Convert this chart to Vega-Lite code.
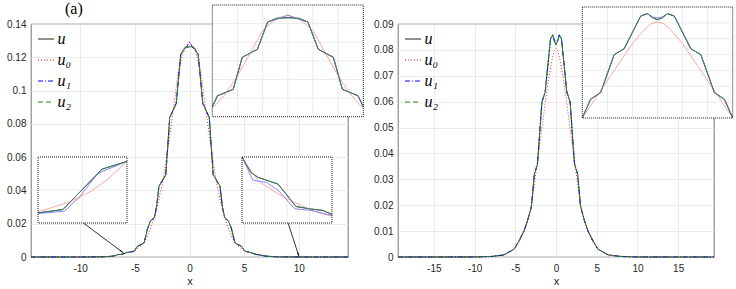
{
  "$schema": "https://vega.github.io/schema/vega-lite/v6.json",
  "padding": {"left": 6, "top": 0, "right": 0, "bottom": 0},
  "bounds": "flush",
  "spacing": 50,
  "resolve": {"scale": {"x": "independent", "y": "independent", "color": "independent", "strokeDash": "independent"}},
  "datasets": {
    "L": [
      {"s":"u","x":-14.5,"y":0},{"s":"u","x":-10,"y":0.00001},{"s":"u","x":-8,"y":0.0001},{"s":"u","x":-7,"y":0.0005},{"s":"u","x":-6.5,"y":0.001475},{"s":"u","x":-6.22,"y":0.001567},{"s":"u","x":-5.78,"y":0.002669},{"s":"u","x":-5.5,"y":0.002881},{"s":"u","x":-5.08,"y":0.0034},{"s":"u","x":-4.75,"y":0.0065},{"s":"u","x":-4.45,"y":0.0074},{"s":"u","x":-4.15,"y":0.0085},{"s":"u","x":-3.85,"y":0.0168},{"s":"u","x":-3.6,"y":0.0212},{"s":"u","x":-3.2,"y":0.0239},{"s":"u","x":-3,"y":0.0307},{"s":"u","x":-2.79,"y":0.0425},{"s":"u","x":-2.17,"y":0.0494},{"s":"u","x":-1.81,"y":0.0838},{"s":"u","x":-1.21,"y":0.0924},{"s":"u","x":-0.8,"y":0.1217},{"s":"u","x":-0.44,"y":0.1257},{"s":"u","x":0,"y":0.1265},{"s":"u","x":0.44,"y":0.1257},{"s":"u","x":0.8,"y":0.1217},{"s":"u","x":1.21,"y":0.0924},{"s":"u","x":1.81,"y":0.0838},{"s":"u","x":2.17,"y":0.0494},{"s":"u","x":2.79,"y":0.0425},{"s":"u","x":3,"y":0.0307},{"s":"u","x":3.2,"y":0.0239},{"s":"u","x":3.6,"y":0.0212},{"s":"u","x":3.85,"y":0.0168},{"s":"u","x":4.15,"y":0.0085},{"s":"u","x":4.45,"y":0.0074},{"s":"u","x":4.75,"y":0.0065},{"s":"u","x":5.08,"y":0.0034},{"s":"u","x":5.5,"y":0.0029},{"s":"u","x":6,"y":0.0017},{"s":"u","x":7,"y":0.0005},{"s":"u","x":8,"y":0.0001},{"s":"u","x":9.5,"y":0.00004},{"s":"u","x":9.6,"y":0.0000306},{"s":"u","x":9.68,"y":0.0000276},{"s":"u","x":9.9,"y":0.0000236},{"s":"u","x":10.1,"y":0.00001},{"s":"u","x":10.25,"y":0.0000086},{"s":"u","x":10.4,"y":0.0000076},{"s":"u","x":10.5,"y":0.0000052},{"s":"u","x":14.5,"y":0},
      {"s":"u₀","x":-14.5,"y":0},{"s":"u₀","x":-10,"y":0.00001},{"s":"u₀","x":-8,"y":0.0001},{"s":"u₀","x":-7,"y":0.0005},{"s":"u₀","x":-6.5,"y":0.001502},{"s":"u₀","x":-6.14,"y":0.001778},{"s":"u₀","x":-5.915,"y":0.002053},{"s":"u₀","x":-5.726,"y":0.002375},{"s":"u₀","x":-5.5,"y":0.002881},{"s":"u₀","x":-5,"y":0.0038},{"s":"u₀","x":-4.5,"y":0.0062},{"s":"u₀","x":-4,"y":0.0105},{"s":"u₀","x":-3.5,"y":0.018},{"s":"u₀","x":-3,"y":0.0289},{"s":"u₀","x":-2.5,"y":0.0435},{"s":"u₀","x":-2,"y":0.064},{"s":"u₀","x":-1.5,"y":0.088},{"s":"u₀","x":-1,"y":0.1125},{"s":"u₀","x":-0.5,"y":0.1246},{"s":"u₀","x":0,"y":0.1295},{"s":"u₀","x":0.5,"y":0.1246},{"s":"u₀","x":1,"y":0.1125},{"s":"u₀","x":1.5,"y":0.088},{"s":"u₀","x":2,"y":0.064},{"s":"u₀","x":2.5,"y":0.0435},{"s":"u₀","x":3,"y":0.0289},{"s":"u₀","x":3.5,"y":0.018},{"s":"u₀","x":4,"y":0.0105},{"s":"u₀","x":4.5,"y":0.0062},{"s":"u₀","x":5,"y":0.0038},{"s":"u₀","x":5.5,"y":0.0029},{"s":"u₀","x":6,"y":0.0018},{"s":"u₀","x":7,"y":0.0005},{"s":"u₀","x":8,"y":0.0001},{"s":"u₀","x":9.5,"y":0.0000396},{"s":"u₀","x":9.68,"y":0.0000256},{"s":"u₀","x":9.9,"y":0.0000176},{"s":"u₀","x":10.1,"y":0.000012},{"s":"u₀","x":10.3,"y":0.0000072},{"s":"u₀","x":10.5,"y":0.000004},{"s":"u₀","x":14.5,"y":0},
      {"s":"u₁","x":-14.5,"y":0},{"s":"u₁","x":-10,"y":0.00001},{"s":"u₁","x":-8,"y":0.0001},{"s":"u₁","x":-7,"y":0.0005},{"s":"u₁","x":-6.5,"y":0.001457},{"s":"u₁","x":-6.2,"y":0.001524},{"s":"u₁","x":-6.03,"y":0.00192},{"s":"u₁","x":-5.84,"y":0.002514},{"s":"u₁","x":-5.78,"y":0.002604},{"s":"u₁","x":-5.5,"y":0.002881},{"s":"u₁","x":-5.08,"y":0.0034},{"s":"u₁","x":-4.75,"y":0.0065},{"s":"u₁","x":-4.45,"y":0.0074},{"s":"u₁","x":-4.15,"y":0.0085},{"s":"u₁","x":-3.85,"y":0.0168},{"s":"u₁","x":-3.6,"y":0.0212},{"s":"u₁","x":-3.2,"y":0.0239},{"s":"u₁","x":-3,"y":0.0307},{"s":"u₁","x":-2.79,"y":0.0425},{"s":"u₁","x":-2.17,"y":0.0494},{"s":"u₁","x":-1.81,"y":0.0838},{"s":"u₁","x":-1.21,"y":0.0924},{"s":"u₁","x":-0.8,"y":0.1217},{"s":"u₁","x":-0.44,"y":0.1245},{"s":"u₁","x":0,"y":0.129},{"s":"u₁","x":0.44,"y":0.1245},{"s":"u₁","x":0.8,"y":0.1217},{"s":"u₁","x":1.21,"y":0.0924},{"s":"u₁","x":1.81,"y":0.0838},{"s":"u₁","x":2.17,"y":0.0494},{"s":"u₁","x":2.79,"y":0.0425},{"s":"u₁","x":3,"y":0.0307},{"s":"u₁","x":3.2,"y":0.0239},{"s":"u₁","x":3.6,"y":0.0212},{"s":"u₁","x":3.85,"y":0.0168},{"s":"u₁","x":4.15,"y":0.0085},{"s":"u₁","x":4.45,"y":0.0074},{"s":"u₁","x":4.75,"y":0.0065},{"s":"u₁","x":5.08,"y":0.0034},{"s":"u₁","x":5.5,"y":0.0029},{"s":"u₁","x":6,"y":0.0017},{"s":"u₁","x":7,"y":0.0005},{"s":"u₁","x":8,"y":0.0001},{"s":"u₁","x":9.5,"y":0.00004},{"s":"u₁","x":9.62,"y":0.000026},{"s":"u₁","x":9.77,"y":0.0000246},{"s":"u₁","x":9.9,"y":0.00002},{"s":"u₁","x":10.085,"y":0.0000086},{"s":"u₁","x":10.27,"y":0.0000076},{"s":"u₁","x":10.5,"y":0.0000046},{"s":"u₁","x":14.5,"y":0},
      {"s":"u₂","x":-14.5,"y":0},{"s":"u₂","x":-10,"y":0.00001},{"s":"u₂","x":-8,"y":0.0001},{"s":"u₂","x":-7,"y":0.0005},{"s":"u₂","x":-6.5,"y":0.001475},{"s":"u₂","x":-6.22,"y":0.001567},{"s":"u₂","x":-5.78,"y":0.002669},{"s":"u₂","x":-5.5,"y":0.002881},{"s":"u₂","x":-5.08,"y":0.0034},{"s":"u₂","x":-4.75,"y":0.0065},{"s":"u₂","x":-4.45,"y":0.0074},{"s":"u₂","x":-4.15,"y":0.0085},{"s":"u₂","x":-3.85,"y":0.0168},{"s":"u₂","x":-3.6,"y":0.0212},{"s":"u₂","x":-3.2,"y":0.0239},{"s":"u₂","x":-3,"y":0.0307},{"s":"u₂","x":-2.79,"y":0.0425},{"s":"u₂","x":-2.17,"y":0.0494},{"s":"u₂","x":-1.81,"y":0.0838},{"s":"u₂","x":-1.21,"y":0.0924},{"s":"u₂","x":-0.8,"y":0.1217},{"s":"u₂","x":-0.44,"y":0.1257},{"s":"u₂","x":0,"y":0.1262},{"s":"u₂","x":0.44,"y":0.1257},{"s":"u₂","x":0.8,"y":0.1217},{"s":"u₂","x":1.21,"y":0.0924},{"s":"u₂","x":1.81,"y":0.0838},{"s":"u₂","x":2.17,"y":0.0494},{"s":"u₂","x":2.79,"y":0.0425},{"s":"u₂","x":3,"y":0.0307},{"s":"u₂","x":3.2,"y":0.0239},{"s":"u₂","x":3.6,"y":0.0212},{"s":"u₂","x":3.85,"y":0.0168},{"s":"u₂","x":4.15,"y":0.0085},{"s":"u₂","x":4.45,"y":0.0074},{"s":"u₂","x":4.75,"y":0.0065},{"s":"u₂","x":5.08,"y":0.0034},{"s":"u₂","x":5.5,"y":0.0029},{"s":"u₂","x":6,"y":0.0017},{"s":"u₂","x":7,"y":0.0005},{"s":"u₂","x":8,"y":0.0001},{"s":"u₂","x":9.5,"y":0.00004},{"s":"u₂","x":9.6,"y":0.0000306},{"s":"u₂","x":9.68,"y":0.0000276},{"s":"u₂","x":9.9,"y":0.0000236},{"s":"u₂","x":10.1,"y":0.00001},{"s":"u₂","x":10.25,"y":0.0000086},{"s":"u₂","x":10.4,"y":0.0000076},{"s":"u₂","x":10.5,"y":0.0000052},{"s":"u₂","x":14.5,"y":0}
    ],
    "R": [
      {"s":"u","x":-19.4,"y":0},{"s":"u","x":-10,"y":0.00002},{"s":"u","x":-8,"y":0.0002},{"s":"u","x":-6.4,"y":0.0008},{"s":"u","x":-5.16,"y":0.003},{"s":"u","x":-4.55,"y":0.0062},{"s":"u","x":-3.93,"y":0.01},{"s":"u","x":-3.52,"y":0.0138},{"s":"u","x":-3.11,"y":0.0183},{"s":"u","x":-3,"y":0.02},{"s":"u","x":-2.67,"y":0.0318},{"s":"u","x":-2.27,"y":0.036},{"s":"u","x":-1.73,"y":0.0599},{"s":"u","x":-1.33,"y":0.0637},{"s":"u","x":-0.67,"y":0.0843},{"s":"u","x":-0.4,"y":0.0858},{"s":"u","x":-0.2,"y":0.0833},{"s":"u","x":0,"y":0.082},{"s":"u","x":0.2,"y":0.0833},{"s":"u","x":0.4,"y":0.0858},{"s":"u","x":0.67,"y":0.0843},{"s":"u","x":1.33,"y":0.0637},{"s":"u","x":1.73,"y":0.0599},{"s":"u","x":2.27,"y":0.036},{"s":"u","x":2.67,"y":0.0318},{"s":"u","x":3,"y":0.02},{"s":"u","x":3.11,"y":0.0183},{"s":"u","x":3.52,"y":0.0138},{"s":"u","x":3.93,"y":0.01},{"s":"u","x":4.55,"y":0.0062},{"s":"u","x":5.16,"y":0.003},{"s":"u","x":6.4,"y":0.0008},{"s":"u","x":8,"y":0.0002},{"s":"u","x":10,"y":0.00002},{"s":"u","x":19.4,"y":0},
      {"s":"u₀","x":-19.4,"y":0},{"s":"u₀","x":-10,"y":0.00002},{"s":"u₀","x":-8,"y":0.0002},{"s":"u₀","x":-6.4,"y":0.0008},{"s":"u₀","x":-5,"y":0.0033},{"s":"u₀","x":-4.5,"y":0.0058},{"s":"u₀","x":-4,"y":0.0095},{"s":"u₀","x":-3.5,"y":0.014},{"s":"u₀","x":-3,"y":0.02},{"s":"u₀","x":-2.5,"y":0.0318},{"s":"u₀","x":-2,"y":0.0435},{"s":"u₀","x":-1.5,"y":0.0552},{"s":"u₀","x":-1,"y":0.0669},{"s":"u₀","x":-0.5,"y":0.076},{"s":"u₀","x":-0.25,"y":0.0795},{"s":"u₀","x":0,"y":0.0805},{"s":"u₀","x":0.25,"y":0.0795},{"s":"u₀","x":0.5,"y":0.076},{"s":"u₀","x":1,"y":0.0669},{"s":"u₀","x":1.5,"y":0.0552},{"s":"u₀","x":2,"y":0.0435},{"s":"u₀","x":2.5,"y":0.0318},{"s":"u₀","x":3,"y":0.02},{"s":"u₀","x":3.5,"y":0.014},{"s":"u₀","x":4,"y":0.0095},{"s":"u₀","x":4.5,"y":0.0058},{"s":"u₀","x":5,"y":0.0033},{"s":"u₀","x":6.4,"y":0.0008},{"s":"u₀","x":8,"y":0.0002},{"s":"u₀","x":10,"y":0.00002},{"s":"u₀","x":19.4,"y":0},
      {"s":"u₁","x":-19.4,"y":0},{"s":"u₁","x":-10,"y":0.00002},{"s":"u₁","x":-8,"y":0.0002},{"s":"u₁","x":-6.4,"y":0.0008},{"s":"u₁","x":-5.16,"y":0.003},{"s":"u₁","x":-4.55,"y":0.0062},{"s":"u₁","x":-3.93,"y":0.01},{"s":"u₁","x":-3.52,"y":0.0138},{"s":"u₁","x":-3.11,"y":0.0183},{"s":"u₁","x":-3,"y":0.02},{"s":"u₁","x":-2.67,"y":0.0318},{"s":"u₁","x":-2.27,"y":0.036},{"s":"u₁","x":-1.73,"y":0.0599},{"s":"u₁","x":-1.33,"y":0.0637},{"s":"u₁","x":-0.67,"y":0.0843},{"s":"u₁","x":-0.4,"y":0.0858},{"s":"u₁","x":-0.2,"y":0.0838},{"s":"u₁","x":0,"y":0.0831},{"s":"u₁","x":0.2,"y":0.0838},{"s":"u₁","x":0.4,"y":0.0858},{"s":"u₁","x":0.67,"y":0.0843},{"s":"u₁","x":1.33,"y":0.0637},{"s":"u₁","x":1.73,"y":0.0599},{"s":"u₁","x":2.27,"y":0.036},{"s":"u₁","x":2.67,"y":0.0318},{"s":"u₁","x":3,"y":0.02},{"s":"u₁","x":3.11,"y":0.0183},{"s":"u₁","x":3.52,"y":0.0138},{"s":"u₁","x":3.93,"y":0.01},{"s":"u₁","x":4.55,"y":0.0062},{"s":"u₁","x":5.16,"y":0.003},{"s":"u₁","x":6.4,"y":0.0008},{"s":"u₁","x":8,"y":0.0002},{"s":"u₁","x":10,"y":0.00002},{"s":"u₁","x":19.4,"y":0},
      {"s":"u₂","x":-19.4,"y":0},{"s":"u₂","x":-10,"y":0.00002},{"s":"u₂","x":-8,"y":0.0002},{"s":"u₂","x":-6.4,"y":0.0008},{"s":"u₂","x":-5.16,"y":0.003},{"s":"u₂","x":-4.55,"y":0.0062},{"s":"u₂","x":-3.93,"y":0.01},{"s":"u₂","x":-3.52,"y":0.0138},{"s":"u₂","x":-3.11,"y":0.0183},{"s":"u₂","x":-3,"y":0.02},{"s":"u₂","x":-2.67,"y":0.0318},{"s":"u₂","x":-2.27,"y":0.036},{"s":"u₂","x":-1.73,"y":0.0599},{"s":"u₂","x":-1.33,"y":0.0637},{"s":"u₂","x":-0.67,"y":0.0843},{"s":"u₂","x":-0.4,"y":0.0858},{"s":"u₂","x":-0.2,"y":0.0833},{"s":"u₂","x":0,"y":0.082},{"s":"u₂","x":0.2,"y":0.0833},{"s":"u₂","x":0.4,"y":0.0858},{"s":"u₂","x":0.67,"y":0.0843},{"s":"u₂","x":1.33,"y":0.0637},{"s":"u₂","x":1.73,"y":0.0599},{"s":"u₂","x":2.27,"y":0.036},{"s":"u₂","x":2.67,"y":0.0318},{"s":"u₂","x":3,"y":0.02},{"s":"u₂","x":3.11,"y":0.0183},{"s":"u₂","x":3.52,"y":0.0138},{"s":"u₂","x":3.93,"y":0.01},{"s":"u₂","x":4.55,"y":0.0062},{"s":"u₂","x":5.16,"y":0.003},{"s":"u₂","x":6.4,"y":0.0008},{"s":"u₂","x":8,"y":0.0002},{"s":"u₂","x":10,"y":0.00002},{"s":"u₂","x":19.4,"y":0}
    ],
    "arrows": [
      {"x":-9.7,"y":0.0204,"x2":-6.03,"y2":0.0024},
      {"x":9.02,"y":0.0204,"x2":10.03,"y2":0}
    ]
  },
  "config": {
    "view": {"stroke": "#3a3a3a", "strokeWidth": 0.7},
    "axis": {"labelFont": "Liberation Sans", "labelFontSize": 10, "labelColor": "#262626", "labelOverlap": false, "grid": true, "gridColor": "#e6e6e6", "gridWidth": 0.8, "domain": false, "ticks": false, "titleFont": "Liberation Sans", "titleFontSize": 11, "titleFontWeight": "normal", "titleColor": "#262626"},
    "axisY": {"labelPadding": 5},
    "axisX": {"labelPadding": 6, "titlePadding": 2},
    "legend": {"orient": "top-left", "offset": 5, "padding": 1.5, "symbolType": "stroke", "symbolSize": 256, "symbolStrokeWidth": 1, "labelFont": "Liberation Serif", "labelFontStyle": "italic", "labelFontSize": 16, "labelColor": "#000000", "labelOffset": 3, "rowPadding": 4}
  },
  "hconcat": [
    {
      "width": 317,
      "height": 233,
      "resolve": {"scale": {"x": "independent", "y": "independent", "color": "independent", "strokeDash": "independent"}},
      "layer": [
        {
          "data": {"name": "L"},
          "mark": {"type": "line"},
          "encoding": {
            "x": {"field": "x", "type": "quantitative", "scale": {"domain": [-14.5, 14.5], "nice": false, "zero": false}, "axis": {"values": [-10, -5, 0, 5, 10], "title": "x", "labelExpr": "datum.value < 0 ? '-' + (-datum.value) : '' + datum.value"}},
            "y": {"field": "y", "type": "quantitative", "scale": {"domain": [0, 0.14], "nice": false}, "axis": {"values": [0, 0.02, 0.04, 0.06, 0.08, 0.1, 0.12, 0.14], "format": ".2~f", "title": null}},
            "color": {"field": "s", "type": "nominal", "scale": {"domain": ["u", "u₀", "u₁", "u₂"], "range": ["#222222", "#ff0000", "#0000ff", "#1f8c1f"]}, "legend": {"title": null}},
            "strokeDash": {"field": "s", "type": "nominal", "scale": {"domain": ["u", "u₀", "u₁", "u₂"], "range": [[1, 0], [1, 2], [5, 2, 1, 2], [5, 3]]}, "legend": {"title": null}},
            "strokeWidth": {"field": "s", "type": "nominal", "scale": {"domain": ["u", "u₀", "u₁", "u₂"], "range": [0.8, 1, 1, 1.2]}, "legend": null}
          }
        },
        {
          "data": {"name": "arrows"},
          "mark": {"type": "rule", "color": "#000000", "strokeWidth": 0.8},
          "encoding": {
            "x": {"field": "x", "type": "quantitative", "scale": {"domain": [-14.5, 14.5], "nice": false, "zero": false}, "axis": null},
            "y": {"field": "y", "type": "quantitative", "scale": {"domain": [0, 0.14], "nice": false}, "axis": null},
            "x2": {"field": "x2"},
            "y2": {"field": "y2"}
          }
        },
        {
          "data": {"values": [{"x": -6.25, "y": 0.0035}]},
          "mark": {"type": "point", "shape": "wedge", "filled": true, "color": "#000000", "size": 30, "angle": 127, "opacity": 1},
          "encoding": {
            "x": {"field": "x", "type": "quantitative", "scale": {"domain": [-14.5, 14.5], "nice": false, "zero": false}, "axis": null},
            "y": {"field": "y", "type": "quantitative", "scale": {"domain": [0, 0.14], "nice": false}, "axis": null}
          }
        },
        {
          "data": {"values": [{"x": 9.945, "y": 0.0017}]},
          "mark": {"type": "point", "shape": "wedge", "filled": true, "color": "#000000", "size": 30, "angle": 162, "opacity": 1},
          "encoding": {
            "x": {"field": "x", "type": "quantitative", "scale": {"domain": [-14.5, 14.5], "nice": false, "zero": false}, "axis": null},
            "y": {"field": "y", "type": "quantitative", "scale": {"domain": [0, 0.14], "nice": false}, "axis": null}
          }
        },
        {
          "data": {"values": [{}]},
          "mark": {"type": "text", "font": "Liberation Serif", "fontSize": 16, "align": "left", "baseline": "alphabetic", "dx": 34, "dy": -10, "color": "#000000"},
          "encoding": {
            "x": {"datum": -14.5, "type": "quantitative", "scale": {"domain": [-14.5, 14.5], "nice": false, "zero": false}, "axis": null},
            "y": {"datum": 0.14, "type": "quantitative", "scale": {"domain": [0, 0.14], "nice": false}, "axis": null},
            "text": {"value": "(a)"}
          }
        },
        {
          "layer": [
            {
              "data": {"values": [{}]},
              "mark": {"type": "rect", "fill": "#ffffff"},
              "encoding": {
                "x": {"datum": -3, "type": "quantitative", "scale": {"domain": [-3, 3], "range": [181.3, 332.3], "nice": false, "zero": false}, "axis": null},
                "x2": {"datum": 3},
                "y": {"datum": 0.02, "type": "quantitative", "scale": {"domain": [0.02, 0.14], "range": [92.7, -19], "nice": false, "zero": false}, "axis": null},
                "y2": {"datum": 0.14}
              }
            },
            {
              "data": {"values": [{"g": -2}, {"g": -1}, {"g": 0}, {"g": 1}, {"g": 2}]},
              "mark": {"type": "rule", "color": "#e6e6e6", "strokeWidth": 0.8},
              "encoding": {
                "x": {"field": "g", "type": "quantitative", "axis": null},
                "y": {"datum": 0.02, "type": "quantitative", "axis": null},
                "y2": {"datum": 0.14}
              }
            },
            {
              "data": {"values": [{"g": 0.04}, {"g": 0.06}, {"g": 0.08}, {"g": 0.1}, {"g": 0.12}]},
              "mark": {"type": "rule", "color": "#e6e6e6", "strokeWidth": 0.8},
              "encoding": {
                "y": {"field": "g", "type": "quantitative", "axis": null},
                "x": {"datum": -3, "type": "quantitative", "axis": null},
                "x2": {"datum": 3}
              }
            },
            {
              "data": {"name": "L"},
              "transform": [{"filter": "datum.x >= -3 && datum.x <= 3"}],
              "mark": {"type": "line", "strokeWidth": 0.9},
              "encoding": {
                "x": {"field": "x", "type": "quantitative", "axis": null},
                "y": {"field": "y", "type": "quantitative", "axis": null},
                "color": {"field": "s", "type": "nominal", "scale": {"domain": ["u", "u₀", "u₁", "u₂"], "range": ["#2b2b2b", "#ff9c9c", "#7b7bff", "#3f7f5f"]}, "legend": null}
              }
            },
            {
              "data": {"values": [{}]},
              "mark": {"type": "rect", "fillOpacity": 0, "stroke": "#000000", "strokeWidth": 0.9, "strokeDash": [1, 1]},
              "encoding": {
                "x": {"datum": -3, "type": "quantitative", "axis": null},
                "x2": {"datum": 3},
                "y": {"datum": 0.02, "type": "quantitative", "axis": null},
                "y2": {"datum": 0.14}
              }
            }
          ]
        },
        {
          "layer": [
            {
              "data": {"values": [{}]},
              "mark": {"type": "rect", "fill": "#ffffff"},
              "encoding": {
                "x": {"datum": -6.5, "type": "quantitative", "scale": {"domain": [-6.5, -5.5], "range": [7, 96], "nice": false, "zero": false}, "axis": null},
                "x2": {"datum": -5.5},
                "y": {"datum": 0.0012, "type": "quantitative", "scale": {"domain": [0.0012, 0.003], "range": [199, 133], "nice": false, "zero": false}, "axis": null},
                "y2": {"datum": 0.003}
              }
            },
            {
              "data": {"values": [{"g": -6}]},
              "mark": {"type": "rule", "color": "#e6e6e6", "strokeWidth": 0.8},
              "encoding": {
                "x": {"field": "g", "type": "quantitative", "axis": null},
                "y": {"datum": 0.0012, "type": "quantitative", "axis": null},
                "y2": {"datum": 0.003}
              }
            },
            {
              "data": {"values": [{"g": 0.0021}]},
              "mark": {"type": "rule", "color": "#e6e6e6", "strokeWidth": 0.8},
              "encoding": {
                "y": {"field": "g", "type": "quantitative", "axis": null},
                "x": {"datum": -6.5, "type": "quantitative", "axis": null},
                "x2": {"datum": -5.5}
              }
            },
            {
              "data": {"name": "L"},
              "transform": [{"filter": "datum.x >= -6.5 && datum.x <= -5.5"}],
              "mark": {"type": "line", "strokeWidth": 0.9},
              "encoding": {
                "x": {"field": "x", "type": "quantitative", "axis": null},
                "y": {"field": "y", "type": "quantitative", "axis": null},
                "color": {"field": "s", "type": "nominal", "scale": {"domain": ["u", "u₀", "u₁", "u₂"], "range": ["#2b2b2b", "#ff9c9c", "#7b7bff", "#3f7f5f"]}, "legend": null}
              }
            },
            {
              "data": {"values": [{}]},
              "mark": {"type": "rect", "fillOpacity": 0, "stroke": "#000000", "strokeWidth": 0.9, "strokeDash": [1, 1]},
              "encoding": {
                "x": {"datum": -6.5, "type": "quantitative", "axis": null},
                "x2": {"datum": -5.5},
                "y": {"datum": 0.0012, "type": "quantitative", "axis": null},
                "y2": {"datum": 0.003}
              }
            }
          ]
        },
        {
          "layer": [
            {
              "data": {"values": [{}]},
              "mark": {"type": "rect", "fill": "#ffffff"},
              "encoding": {
                "x": {"datum": 9.5, "type": "quantitative", "scale": {"domain": [9.5, 10.5], "range": [211, 301], "nice": false, "zero": false}, "axis": null},
                "x2": {"datum": 10.5},
                "y": {"datum": 0, "type": "quantitative", "scale": {"domain": [0, 0.00004], "range": [199, 133], "nice": false, "zero": false}, "axis": null},
                "y2": {"datum": 0.00004}
              }
            },
            {
              "data": {"values": [{"g": 9.75}, {"g": 10}, {"g": 10.25}]},
              "mark": {"type": "rule", "color": "#e6e6e6", "strokeWidth": 0.8},
              "encoding": {
                "x": {"field": "g", "type": "quantitative", "axis": null},
                "y": {"datum": 0, "type": "quantitative", "axis": null},
                "y2": {"datum": 0.00004}
              }
            },
            {
              "data": {"values": [{"g": 0.00002}]},
              "mark": {"type": "rule", "color": "#e6e6e6", "strokeWidth": 0.8},
              "encoding": {
                "y": {"field": "g", "type": "quantitative", "axis": null},
                "x": {"datum": 9.5, "type": "quantitative", "axis": null},
                "x2": {"datum": 10.5}
              }
            },
            {
              "data": {"name": "L"},
              "transform": [{"filter": "datum.x >= 9.5 && datum.x <= 10.5"}],
              "mark": {"type": "line", "strokeWidth": 0.9},
              "encoding": {
                "x": {"field": "x", "type": "quantitative", "axis": null},
                "y": {"field": "y", "type": "quantitative", "axis": null},
                "color": {"field": "s", "type": "nominal", "scale": {"domain": ["u", "u₀", "u₁", "u₂"], "range": ["#2b2b2b", "#ff9c9c", "#7b7bff", "#3f7f5f"]}, "legend": null}
              }
            },
            {
              "data": {"values": [{}]},
              "mark": {"type": "rect", "fillOpacity": 0, "stroke": "#000000", "strokeWidth": 0.9, "strokeDash": [1, 1]},
              "encoding": {
                "x": {"datum": 9.5, "type": "quantitative", "axis": null},
                "x2": {"datum": 10.5},
                "y": {"datum": 0, "type": "quantitative", "axis": null},
                "y2": {"datum": 0.00004}
              }
            }
          ]
        }
      ]
    },
    {
      "width": 316,
      "height": 233,
      "resolve": {"scale": {"x": "independent", "y": "independent", "color": "independent", "strokeDash": "independent"}},
      "layer": [
        {
          "data": {"name": "R"},
          "mark": {"type": "line"},
          "encoding": {
            "x": {"field": "x", "type": "quantitative", "scale": {"domain": [-19.4, 19.4], "nice": false, "zero": false}, "axis": {"values": [-15, -10, -5, 0, 5, 10, 15], "title": "x", "labelExpr": "datum.value < 0 ? '-' + (-datum.value) : '' + datum.value"}},
            "y": {"field": "y", "type": "quantitative", "scale": {"domain": [0, 0.09], "nice": false}, "axis": {"values": [0, 0.01, 0.02, 0.03, 0.04, 0.05, 0.06, 0.07, 0.08, 0.09], "format": ".2~f", "title": null}},
            "color": {"field": "s", "type": "nominal", "scale": {"domain": ["u", "u₀", "u₁", "u₂"], "range": ["#222222", "#ff0000", "#0000ff", "#1f8c1f"]}, "legend": {"title": null}},
            "strokeDash": {"field": "s", "type": "nominal", "scale": {"domain": ["u", "u₀", "u₁", "u₂"], "range": [[1, 0], [1, 2], [5, 2, 1, 2], [5, 3]]}, "legend": {"title": null}},
            "strokeWidth": {"field": "s", "type": "nominal", "scale": {"domain": ["u", "u₀", "u₁", "u₂"], "range": [0.8, 1, 1, 1.2]}, "legend": null}
          }
        },
        {
          "layer": [
            {
              "data": {"values": [{}]},
              "mark": {"type": "rect", "fill": "#ffffff"},
              "encoding": {
                "x": {"datum": -3, "type": "quantitative", "scale": {"domain": [-3, 3], "range": [184.3, 334.7], "nice": false, "zero": false}, "axis": null},
                "x2": {"datum": 3},
                "y": {"datum": 0.02, "type": "quantitative", "scale": {"domain": [0.02, 0.09], "range": [94, -17], "nice": false, "zero": false}, "axis": null},
                "y2": {"datum": 0.09}
              }
            },
            {
              "data": {"values": [{"g": -2}, {"g": -1}, {"g": 0}, {"g": 1}, {"g": 2}]},
              "mark": {"type": "rule", "color": "#e6e6e6", "strokeWidth": 0.8},
              "encoding": {
                "x": {"field": "g", "type": "quantitative", "axis": null},
                "y": {"datum": 0.02, "type": "quantitative", "axis": null},
                "y2": {"datum": 0.09}
              }
            },
            {
              "data": {"values": [{"g": 0.03}, {"g": 0.04}, {"g": 0.05}, {"g": 0.06}, {"g": 0.07}, {"g": 0.08}]},
              "mark": {"type": "rule", "color": "#e6e6e6", "strokeWidth": 0.8},
              "encoding": {
                "y": {"field": "g", "type": "quantitative", "axis": null},
                "x": {"datum": -3, "type": "quantitative", "axis": null},
                "x2": {"datum": 3}
              }
            },
            {
              "data": {"name": "R"},
              "transform": [{"filter": "datum.x >= -3 && datum.x <= 3"}],
              "mark": {"type": "line", "strokeWidth": 0.9},
              "encoding": {
                "x": {"field": "x", "type": "quantitative", "axis": null},
                "y": {"field": "y", "type": "quantitative", "axis": null},
                "color": {"field": "s", "type": "nominal", "scale": {"domain": ["u", "u₀", "u₁", "u₂"], "range": ["#2b2b2b", "#ff9c9c", "#7b7bff", "#3f7f5f"]}, "legend": null}
              }
            },
            {
              "data": {"values": [{}]},
              "mark": {"type": "rect", "fillOpacity": 0, "stroke": "#000000", "strokeWidth": 0.9, "strokeDash": [1, 1]},
              "encoding": {
                "x": {"datum": -3, "type": "quantitative", "axis": null},
                "x2": {"datum": 3},
                "y": {"datum": 0.02, "type": "quantitative", "axis": null},
                "y2": {"datum": 0.09}
              }
            }
          ]
        }
      ]
    }
  ]
}
